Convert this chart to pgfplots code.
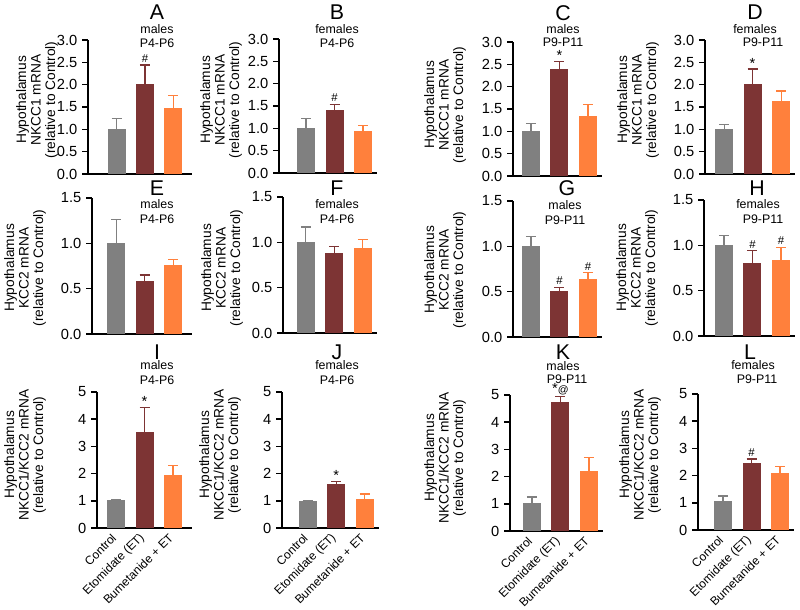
\documentclass[border=0pt]{standalone}
\usepackage{fontspec}
\setmainfont{Liberation Sans}
\usepackage{pgfplots}
\pgfplotsset{compat=1.18}

\definecolor{CtrlGray} {RGB}{128,128,128}
\definecolor{EtoRed}   {RGB}{125, 52, 52}
\definecolor{BumOrange}{RGB}{255,128, 60}

\pgfplotsset{
  panel/.style={
    scale only axis,
    axis lines=left,
    axis line style={-, line width=1.2pt, black},
    enlargelimits=false,
    ymin=0,
    x=21.375pt,
    xtick=\empty,
    major tick length=4.5pt,
    tick align=outside,
    ytick style={line width=1.2pt, black},
    tick label style={font=\fontsize{11}{12}\selectfont},
    /pgf/number format/assume math mode=true,
    anchor=south west,
    clip=false,
  },
  dec/.style={yticklabel style={/pgf/number format/fixed,
      /pgf/number format/fixed zerofill, /pgf/number format/precision=1}},
  row1/.style={panel, dec, ymax=3, y=33.5pt, ytick={0,0.5,1,1.5,2,2.5,3}},
  row2/.style={panel, dec, ymax=1.5, y=68pt, ytick={0,0.5,1,1.5}},
  row3/.style={panel, ymax=5, y=20.4pt, ytick={0,1,2,3,4,5},
    xtick={1,2,3},
    xticklabels={Control, Etomidate (ET), Bumetanide + ET},
    x tick style={draw=none},
    xticklabel style={rotate=45, anchor=east, inner sep=2pt, font=\fontsize{9}{10}\selectfont}},
  bar/.style={ybar, bar width=13.5pt, bar shift=0pt, fill=#1, draw=none,
    error bars/.cd, y dir=plus, y explicit,
    error bar style={#1, line width=0.9pt},
    error mark options={rotate=90, #1, line width=0.9pt, mark size=3.75pt}},
}
\tikzset{
  mk/.style={anchor=south, inner sep=1.5pt, font=\fontsize{8.5}{9}\selectfont},
  st/.style={anchor=south, inner sep=0.5pt, font=\fontsize{11}{11}\selectfont},
  letter/.style={font=\fontsize{16}{18}\selectfont},
  sub/.style={font=\fontsize{9.3}{10}\selectfont},
  ylab/.style={rotate=90, align=center, font=\fontsize{10.3}{10.9}\selectfont},
}

\begin{document}
\begin{tikzpicture}

% ---------- row 1: NKCC1 ----------
\begin{axis}[row1, at={(66pt,-130.5pt)}, xmin=0, xmax=3.65]
\addplot[bar=CtrlGray]  coordinates {(1,1.00) +- (0,0.24)};
\addplot[bar=EtoRed]    coordinates {(2,2.01) +- (0,0.43)};
\addplot[bar=BumOrange] coordinates {(3,1.47) +- (0,0.29)};
\node[mk] at (axis cs:2,2.44) {\#};
\end{axis}

\begin{axis}[row1, at={(209.25pt,-129.75pt)}, xmin=0.05, xmax=3.5]
\addplot[bar=CtrlGray]  coordinates {(1,1.00) +- (0,0.22)};
\addplot[bar=EtoRed]    coordinates {(2,1.42) +- (0,0.12)};
\addplot[bar=BumOrange] coordinates {(3,0.93) +- (0,0.13)};
\node[mk] at (axis cs:2,1.54) {\#};
\end{axis}

\begin{axis}[row1, at={(384.75pt,-132pt)}, xmin=0.37, xmax=3.5]
\addplot[bar=CtrlGray]  coordinates {(1,1.00) +- (0,0.18)};
\addplot[bar=EtoRed]    coordinates {(2,2.40) +- (0,0.17)};
\addplot[bar=BumOrange] coordinates {(3,1.34) +- (0,0.26)};
\node[st] at (axis cs:2,2.57) {*};
\end{axis}

\begin{axis}[row1, at={(528.75pt,-130.5pt)}, xmin=0.33, xmax=3.5]
\addplot[bar=CtrlGray]  coordinates {(1,1.00) +- (0,0.11)};
\addplot[bar=EtoRed]    coordinates {(2,2.01) +- (0,0.34)};
\addplot[bar=BumOrange] coordinates {(3,1.63) +- (0,0.23)};
\node[st] at (axis cs:2,2.35) {*};
\end{axis}

% ---------- row 2: KCC2 ----------
\begin{axis}[row2, at={(69pt,-250.5pt)}, xmin=0.15, xmax=3.65]
\addplot[bar=CtrlGray]  coordinates {(1,1.00) +- (0,0.26)};
\addplot[bar=EtoRed]    coordinates {(2,0.59) +- (0,0.06)};
\addplot[bar=BumOrange] coordinates {(3,0.76) +- (0,0.06)};
\end{axis}

\begin{axis}[row2, at={(212.25pt,-249.75pt)}, xmin=0.2, xmax=3.5]
\addplot[bar=CtrlGray]  coordinates {(1,1.00) +- (0,0.17)};
\addplot[bar=EtoRed]    coordinates {(2,0.88) +- (0,0.07)};
\addplot[bar=BumOrange] coordinates {(3,0.94) +- (0,0.09)};
\end{axis}

\begin{axis}[row2, at={(384.75pt,-252.75pt)}, xmin=0.37, xmax=3.5]
\addplot[bar=CtrlGray]  coordinates {(1,1.00) +- (0,0.11)};
\addplot[bar=EtoRed]    coordinates {(2,0.51) +- (0,0.04)};
\addplot[bar=BumOrange] coordinates {(3,0.64) +- (0,0.07)};
\node[mk] at (axis cs:2,0.55) {\#};
\node[mk] at (axis cs:3,0.71) {\#};
\end{axis}

\begin{axis}[row2, at={(528pt,-252pt)}, xmin=0.3, xmax=3.5]
\addplot[bar=CtrlGray]  coordinates {(1,1.00) +- (0,0.11)};
\addplot[bar=EtoRed]    coordinates {(2,0.81) +- (0,0.13)};
\addplot[bar=BumOrange] coordinates {(3,0.84) +- (0,0.14)};
\node[mk] at (axis cs:2,0.94) {\#};
\node[mk] at (axis cs:3,0.98) {\#};
\end{axis}

% ---------- row 3: NKCC1/KCC2 ----------
\begin{axis}[row3, at={(72.75pt,-396pt)}, xmin=0.33, xmax=3.65]
\addplot[bar=CtrlGray]  coordinates {(1,1.03) +- (0,0.02)};
\addplot[bar=EtoRed]    coordinates {(2,3.53) +- (0,0.90)};
\addplot[bar=BumOrange] coordinates {(3,1.95) +- (0,0.36)};
\node[st] at (axis cs:2,4.45) {*};
\end{axis}

\begin{axis}[row3, at={(211.5pt,-396pt)}, xmin=0.1, xmax=3.5]
\addplot[bar=CtrlGray]  coordinates {(1,1.00) +- (0,0.02)};
\addplot[bar=EtoRed]    coordinates {(2,1.62) +- (0,0.08)};
\addplot[bar=BumOrange] coordinates {(3,1.05) +- (0,0.20)};
\node[st] at (axis cs:2,1.72) {*};
\end{axis}

\begin{axis}[row3, at={(382.5pt,-398.25pt)}, xmin=0.23, xmax=3.5]
\addplot[bar=CtrlGray]  coordinates {(1,1.04) +- (0,0.21)};
\addplot[bar=EtoRed]    coordinates {(2,4.74) +- (0,0.20)};
\addplot[bar=BumOrange] coordinates {(3,2.20) +- (0,0.51)};
\node[st] at (axis cs:2,4.96) {*{\fontsize{8}{8}\selectfont @}};
\end{axis}

\begin{axis}[row3, at={(523.5pt,-397.5pt)}, xmin=0.12, xmax=3.5]
\addplot[bar=CtrlGray]  coordinates {(1,1.07) +- (0,0.18)};
\addplot[bar=EtoRed]    coordinates {(2,2.48) +- (0,0.13)};
\addplot[bar=BumOrange] coordinates {(3,2.08) +- (0,0.25)};
\node[mk] at (axis cs:2,2.62) {\#};
\end{axis}

\begin{scope}[x=0.75pt, y=-0.75pt]
% ---------- panel letters and subtitles ----------
\node[letter] at (157,12) {A};  \node[sub] at (157,29) {males};   \node[sub] at (157,43) {P4-P6};
\node[letter] at (337,12) {B};  \node[sub] at (337,29) {females}; \node[sub] at (337,43) {P4-P6};
\node[letter] at (563,13) {C};  \node[sub] at (563,29) {males};   \node[sub] at (563,42) {P9-P11};
\node[letter] at (755,12) {D};  \node[sub] at (755,29) {females}; \node[sub] at (763,42) {P9-P11};
\node[letter] at (157,188) {E}; \node[sub] at (157,204) {males};   \node[sub] at (157,219) {P4-P6};
\node[letter] at (337,188) {F}; \node[sub] at (337,204) {females}; \node[sub] at (337,219) {P4-P6};
\node[letter] at (567,188) {G}; \node[sub] at (565,205) {males};   \node[sub] at (565,220) {P9-P11};
\node[letter] at (757,188) {H}; \node[sub] at (758,204) {females}; \node[sub] at (763,219) {P9-P11};
\node[letter] at (157,352) {I}; \node[sub] at (157,365) {males};   \node[sub] at (157,380) {P4-P6};
\node[letter] at (337,352) {J}; \node[sub] at (337,365) {females}; \node[sub] at (337,380) {P4-P6};
\node[letter] at (563,352) {K}; \node[sub] at (563,366) {males};   \node[sub] at (567,379) {P9-P11};
\node[letter] at (750,352) {L}; \node[sub] at (753,365) {females}; \node[sub] at (757,379) {P9-P11};

% ---------- y labels ----------
\node[ylab] at (37,100)  {Hypothalamus\\NKCC1 mRNA\\(relative to Control)};
\node[ylab] at (221,100) {Hypothalamus\\NKCC1 mRNA\\(relative to Control)};
\node[ylab] at (445,105) {Hypothalamus\\NKCC1 mRNA\\(relative to Control)};
\node[ylab] at (638,100) {Hypothalamus\\NKCC1 mRNA\\(relative to Control)};
\node[ylab] at (25,268)  {Hypothalamus\\KCC2 mRNA\\(relative to Control)};
\node[ylab] at (222,268) {Hypothalamus\\KCC2 mRNA\\(relative to Control)};
\node[ylab] at (445,270) {Hypothalamus\\KCC2 mRNA\\(relative to Control)};
\node[ylab] at (637,268) {Hypothalamus\\KCC2 mRNA\\(relative to Control)};
\node[ylab] at (25,455)  {Hypothalamus\\NKCC1/KCC2 mRNA\\(relative to Control)};
\node[ylab] at (220,455) {Hypothalamus\\NKCC1/KCC2 mRNA\\(relative to Control)};
\node[ylab] at (445,458) {Hypothalamus\\NKCC1/KCC2 mRNA\\(relative to Control)};
\node[ylab] at (640,455) {Hypothalamus\\NKCC1/KCC2 mRNA\\(relative to Control)};

\pgfresetboundingbox
\useasboundingbox (0,0) rectangle (800,610);
\end{scope}
\end{tikzpicture}
\end{document}
